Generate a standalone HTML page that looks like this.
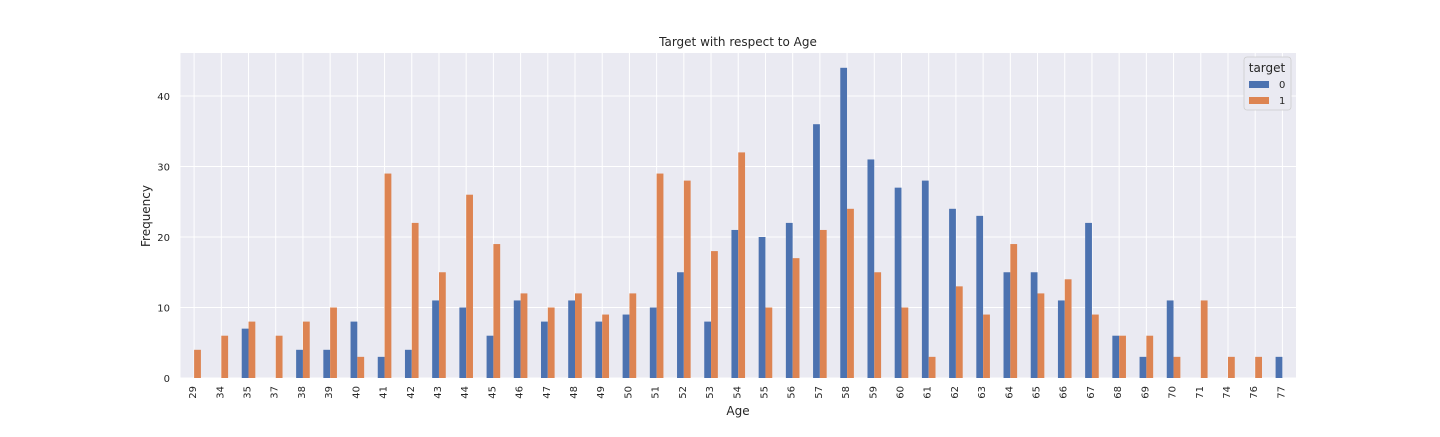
<!DOCTYPE html>
<html><head><meta charset="utf-8"><style>
body{margin:0;background:#fff;font-family:"Liberation Sans","DejaVu Sans",sans-serif;}
svg text{font-family:"DejaVu Sans","Liberation Sans",sans-serif;fill:#262626;}
</style></head><body>
<svg id="chart" width="1440" height="432" xmlns="http://www.w3.org/2000/svg">
<rect x="180.5" y="53" width="1115.5" height="325" fill="#eaeaf2"/>
<g id="grid"></g>
<g id="bars"></g>
<g id="xticks"></g>
<g id="yticks"></g>
<text x="738" y="46" font-size="12" text-anchor="middle">Target with respect to Age</text>
<text x="738" y="415" font-size="12" text-anchor="middle">Age</text>
<text x="150" y="216" font-size="12" text-anchor="middle" transform="rotate(-90 150 216)">Frequency</text>
<g>
<rect x="1244" y="57" width="47" height="53" rx="3" fill="#eaeaf2" stroke="#ccc" stroke-width="0.8"/>
<text x="1267" y="72" font-size="12" text-anchor="middle">target</text>
<rect x="1249" y="81" width="20" height="7" fill="#4c72b0"/>
<text x="1279" y="88" font-size="10">0</text>
<rect x="1249" y="97" width="20" height="7" fill="#dd8452"/>
<text x="1279" y="104" font-size="10">1</text>
</g>
</svg>
<script>
const categories=[29,34,35,37,38,39,40,41,42,43,44,45,46,47,48,49,50,51,52,53,54,55,56,57,58,59,60,61,62,63,64,65,66,67,68,69,70,71,74,76,77];
const target0=[0,0,7,0,4,4,8,3,4,11,10,6,11,8,11,8,9,10,15,8,21,20,22,36,44,31,27,28,24,23,15,15,11,22,6,3,11,0,0,0,3];
const target1=[4,6,8,6,8,10,3,29,22,15,26,19,12,10,12,9,12,29,28,18,32,10,17,21,24,15,10,3,13,9,19,12,14,9,6,6,3,11,3,3,0];
const yTicks=[0,10,20,30,40];
const NS="http://www.w3.org/2000/svg";
const x0=180.5,x1=1296,y0=378,yTop=53,yMax=46.1;
const step=(x1-x0)/categories.length;
const xc=i=>x0+step*(i+0.5);
const ys=v=>y0-(v/yMax)*(y0-yTop);
function mk(tag,attrs,parent){const e=document.createElementNS(NS,tag);for(const k in attrs)e.setAttribute(k,attrs[k]);document.getElementById(parent).appendChild(e);return e;}
yTicks.forEach(t=>{
  const l=mk('line',{x1:x0,x2:x1,y1:ys(t),y2:ys(t),stroke:'#fff','stroke-width':1},'grid');
  
  
  const tx=mk('text',{x:170,y:ys(t)+4,'font-size':10,'text-anchor':'end'},'yticks');
  tx.textContent=t;
  
  
});
categories.forEach((c,i)=>{
  const g=mk('line',{x1:xc(i),x2:xc(i),y1:yTop,y2:y0,stroke:'#fff','stroke-width':1},'grid');
  
  
  const bw=step*0.25;
  const b0=mk('rect',{x:xc(i)-bw,y:ys(target0[i]),width:bw,height:y0-ys(target0[i]),fill:'#4c72b0'},'bars');
  
  
  const b1=mk('rect',{x:xc(i),y:ys(target1[i]),width:bw,height:y0-ys(target1[i]),fill:'#dd8452'},'bars');
  
  
  const tx=mk('text',{x:0,y:0,'font-size':10,'text-anchor':'end',transform:`translate(${xc(i)+2},386) rotate(-90)`},'xticks');
  tx.textContent=c;
  
  
});
</script>
</body></html>
